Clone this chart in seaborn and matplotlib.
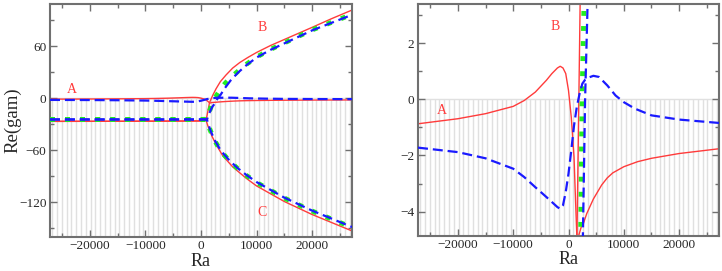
import numpy as np
import matplotlib
matplotlib.use("Agg")
import matplotlib.pyplot as plt
import seaborn as sns

# ---- datos (Ra, Re(gam)) ----
# rama A (cerca de 0)
ra_A_rojo = [-27200, -20000, -15000, -10000, -8000, -6000, -4000, -3000, -2000, -1500, -1000, -500,
             0, 500, 1000, 1200, 1400, 1550, 1700, 1850, 2300, 2700, 3300, 4500, 6000, 7000, 8000,
             10000, 12500, 15000, 20000, 27200]
re_A_rojo = [-0.87, -0.69, -0.51, -0.25, -0.04, 0.26, 0.68, 0.92, 1.12, 1.18, 1.12, 0.92,
             0.32, -0.63, -2.06, -3.2, -4.3, -5.1, -5.3, -4.85, -4.55, -4.42, -4.07, -3.55, -3.05, -2.8, -2.62,
             -2.4, -2.22, -2.1, -1.93, -1.76]

ra_A_azul = [-27200, -20000, -15000, -10000, -8000, -6000, -4000, -3000, -2000, -1500, -1000, -500,
             0, 500, 1000, 1500, 2000, 2500, 3000, 3500, 4500, 5500, 7000, 8500,
             10000, 12000, 15000, 20000, 27200]
re_A_azul = [-1.72, -1.88, -2.1, -2.47, -2.77, -3.13, -3.48, -3.66, -3.84, -3.9, -3.78, -3.3,
             -2.65, -1.82, -0.93, -0.27, 0.2, 0.56, 0.7, 0.77, 0.84, 0.8, 0.5, 0.14,
             -0.1, -0.33, -0.57, -0.72, -0.84]

# rama B (sube)
ra_B_rojo = [-27200, -15000, -5000, 0, 500, 900, 1050, 1200, 1350, 1530, 1870, 2100, 2700,
             3500, 4500, 5700, 7000, 8500, 10000, 12500, 15000, 17500, 20000, 23500, 27200]
re_B_rojo = [-26.5, -26.4, -26.2, -26.0, -25.5, -24.5, -21, -16, -11, -4.9, 0, 3.4, 11,
             19.5, 27, 35, 41.5, 47.5, 53, 61, 68, 75, 82, 92, 102]

ra_B_verde = [-27200, -15000, -5000, 0, 600, 1100, 1400, 1800, 2200, 2450, 2800, 3500,
              4300, 5100, 6600, 8200, 10100, 12500, 15000, 20000, 27200]
re_B_verde = [-24.3, -24.3, -24.3, -24.3, -24.2, -24, -17, -10, -4.9, 0, 3.4, 10.5,
              17, 22.5, 31, 39.5, 48, 56.5, 64, 79, 97]

ra_B_azul = [-27200, -15000, -5000, 0, 600, 1100, 1500, 2000, 2600, 3000, 3450, 4200,
             5300, 6700, 8300, 10100, 12500, 15000, 20000, 27200]
re_B_azul = [-24.3, -24.3, -24.3, -24.3, -24.2, -24, -17, -10, -4.9, 0, 3.4, 11,
             20.5, 30, 39, 47.5, 56, 63.5, 78.5, 96.5]

# rama C (baja)
ra_C_rojo = [-27200, -15000, -5000, 0, 500, 900, 1000, 1200, 1500, 2000, 2700, 3900,
             5700, 8100, 10000, 15000, 20000, 27200]
re_C_rojo = [-26.5, -26.4, -26.2, -26.0, -25.5, -25, -27, -31, -36, -44, -53, -66,
             -79, -92, -101, -119, -134, -153]

ra_C_verde = [-27200, -15000, -5000, 0, 600, 1100, 1300, 1620, 2000, 2580, 3600, 5100,
              6600, 8200, 10000, 15000, 20000, 27200]
re_C_verde = [-24.3, -24.3, -24.3, -24.3, -24.2, -25, -30, -36, -42, -50, -61, -72,
              -81, -89, -97, -115, -130, -149]

ra_C_azul = ra_C_verde
re_C_azul = [-24.3, -24.3, -24.3, -24.3, -24.2, -25, -29.5, -35.5, -41.5, -49.5, -60.5, -71.5,
             -80.5, -88.5, -96.5, -114.5, -129.5, -148.5]

etiquetas_izq = [("A", -23200, 10), ("B", 11000, 82), ("C", 11000, -132)]
etiquetas_der = [("A", -22800, -0.4), ("B", -2400, 2.6)]

# ---- estilo ----
sns.set_style("ticks")
plt.rcParams["font.family"] = ["Liberation Serif", "DejaVu Serif"]

ROJO = "#ff3b3b"
AZUL = "#1a1aff"
VERDE = "#22ee22"
GRIS = "#e0e0e0"
EJE = "#707070"

fig = plt.figure(figsize=(7.22, 2.71), dpi=100)
ax1 = fig.add_axes([50 / 722, 34 / 271, 302 / 722, 233 / 271])
ax2 = fig.add_axes([418 / 722, 35 / 271, 301 / 722, 232 / 271])

XLIM = (-27200, 27200)


def dibujar(ax, ylim):
    # region rayada (Re < 0)
    xs = np.arange(-26800, XLIM[1], 865)
    ax.vlines(xs, ylim[0], 0, color=GRIS, lw=1.0, zorder=0)
    ax.axhline(0, color=GRIS, lw=1.0, zorder=0)

    curvas_rojas = [(ra_A_rojo, re_A_rojo), (ra_B_rojo, re_B_rojo), (ra_C_rojo, re_C_rojo)]
    curvas_azules = [(ra_A_azul, re_A_azul), (ra_B_azul, re_B_azul), (ra_C_azul, re_C_azul)]
    curvas_verdes = [(ra_B_verde, re_B_verde), (ra_C_verde, re_C_verde)]

    for x, y in curvas_rojas:
        sns.lineplot(x=x, y=y, ax=ax, color=ROJO, lw=1.0, sort=False, errorbar=None, zorder=2)
    for x, y in curvas_verdes:
        sns.lineplot(x=x, y=y, ax=ax, color=VERDE, lw=3.5, sort=False, errorbar=None,
                     linestyle=(0, (1, 2.1)), dash_capstyle="butt", zorder=3)
    for x, y in curvas_azules:
        sns.lineplot(x=x, y=y, ax=ax, color=AZUL, lw=1.6, sort=False, errorbar=None,
                     linestyle=(0, (4.5, 2.2)), zorder=4)

    ax.set_xlim(*XLIM)
    ax.set_ylim(*ylim)
    ax.set_xticks([-20000, -10000, 0, 10000, 20000])
    ax.set_xticks(np.arange(-25000, 27000, 5000), minor=True)
    ax.tick_params(which="both", direction="in", top=True, right=True, color=EJE,
                   labelsize=9.5, pad=2.5)
    ax.tick_params(which="major", length=5, width=1)
    ax.tick_params(which="minor", length=3, width=1)
    for s in ax.spines.values():
        s.set_color(EJE)
        s.set_linewidth(1.5)
    ax.set_xlabel("Ra", fontsize=13, va="bottom")
    ax.xaxis.set_label_coords(0.5, -0.14)


dibujar(ax1, (-160, 109))
ax1.set_yticks([-120, -60, 0, 60])
ax1.set_yticks(np.arange(-150, 109, 30), minor=True)
ax1.set_ylabel("Re(gam)", fontsize=13.5, va="center")
ax1.yaxis.set_label_coords(-0.122, 0.5)
for t, x, y in etiquetas_izq:
    ax1.text(x, y, t, color=ROJO, fontsize=10, ha="center", va="center")

dibujar(ax2, (-4.87, 3.4))
ax2.set_yticks([-4, -2, 0, 2])
ax2.set_yticks(np.arange(-4, 3.5, 1), minor=True)
ax2.set_ylabel("")
for t, x, y in etiquetas_der:
    ax2.text(x, y, t, color=ROJO, fontsize=10, ha="center", va="center")

fig.savefig("out.png", dpi=100)
